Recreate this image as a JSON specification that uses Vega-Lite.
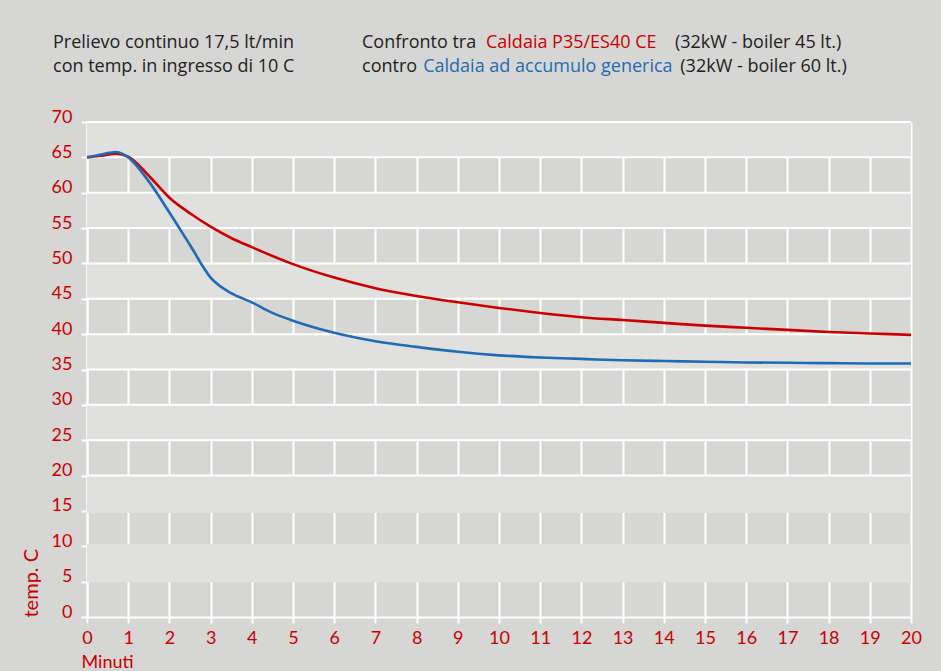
{
  "$schema": "https://vega.github.io/schema/vega-lite/v6.json",
  "width": 824,
  "height": 495,
  "autosize": {"type": "none"},
  "padding": {"left": 87, "top": 122, "right": 30, "bottom": 54},
  "background": "#d6d6d4",
  "config": {
    "view": {"stroke": null, "fill": "#d6d6d4"},
    "font": "Lato",
    "axis": {"labelFont": "Lato", "titleFont": "Lato"}
  },
  "datasets": {
    "bands": [
      {"temp": 65, "temp2": 70},
      {"temp": 55, "temp2": 60},
      {"temp": 45, "temp2": 50},
      {"temp": 35, "temp2": 40},
      {"temp": 25, "temp2": 30},
      {"temp": 14.7, "temp2": 20},
      {"temp": 4.9, "temp2": 10.3}
    ],
    "hgrid": [
      {"temp": 20}, {"temp": 25}, {"temp": 30}, {"temp": 35}, {"temp": 40}, {"temp": 45},
      {"temp": 50}, {"temp": 55}, {"temp": 60}, {"temp": 65}, {"temp": 70}
    ],
    "curves": [
      {"series": "P35", "minute": 0, "temp": 65.0},
      {"series": "P35", "minute": 0.35, "temp": 65.25},
      {"series": "P35", "minute": 0.7, "temp": 65.5},
      {"series": "P35", "minute": 1, "temp": 65.1},
      {"series": "P35", "minute": 1.5, "temp": 62.4},
      {"series": "P35", "minute": 2, "temp": 59.3},
      {"series": "P35", "minute": 2.5, "temp": 57.1},
      {"series": "P35", "minute": 3, "temp": 55.2},
      {"series": "P35", "minute": 3.5, "temp": 53.6},
      {"series": "P35", "minute": 4, "temp": 52.3},
      {"series": "P35", "minute": 5, "temp": 49.9},
      {"series": "P35", "minute": 6, "temp": 48.0},
      {"series": "P35", "minute": 7, "temp": 46.5},
      {"series": "P35", "minute": 8, "temp": 45.4},
      {"series": "P35", "minute": 9, "temp": 44.5},
      {"series": "P35", "minute": 10, "temp": 43.7},
      {"series": "P35", "minute": 11, "temp": 43.0},
      {"series": "P35", "minute": 12, "temp": 42.4},
      {"series": "P35", "minute": 13, "temp": 42.0},
      {"series": "P35", "minute": 14, "temp": 41.6},
      {"series": "P35", "minute": 15, "temp": 41.2},
      {"series": "P35", "minute": 16, "temp": 40.9},
      {"series": "P35", "minute": 17, "temp": 40.6},
      {"series": "P35", "minute": 18, "temp": 40.3},
      {"series": "P35", "minute": 19, "temp": 40.1},
      {"series": "P35", "minute": 20, "temp": 39.9},
      {"series": "generica", "minute": 0, "temp": 65.0},
      {"series": "generica", "minute": 0.35, "temp": 65.4},
      {"series": "generica", "minute": 0.7, "temp": 65.75},
      {"series": "generica", "minute": 1, "temp": 65.0},
      {"series": "generica", "minute": 1.5, "temp": 61.6},
      {"series": "generica", "minute": 2, "temp": 57.2},
      {"series": "generica", "minute": 2.5, "temp": 52.6},
      {"series": "generica", "minute": 3, "temp": 48.0},
      {"series": "generica", "minute": 3.5, "temp": 45.8},
      {"series": "generica", "minute": 4, "temp": 44.5},
      {"series": "generica", "minute": 4.5, "temp": 43.0},
      {"series": "generica", "minute": 5, "temp": 41.9},
      {"series": "generica", "minute": 6, "temp": 40.2},
      {"series": "generica", "minute": 7, "temp": 39.0},
      {"series": "generica", "minute": 8, "temp": 38.2},
      {"series": "generica", "minute": 9, "temp": 37.5},
      {"series": "generica", "minute": 10, "temp": 37.0},
      {"series": "generica", "minute": 11, "temp": 36.7},
      {"series": "generica", "minute": 12, "temp": 36.5},
      {"series": "generica", "minute": 13, "temp": 36.3},
      {"series": "generica", "minute": 14, "temp": 36.2},
      {"series": "generica", "minute": 15, "temp": 36.1},
      {"series": "generica", "minute": 16, "temp": 36.0},
      {"series": "generica", "minute": 17, "temp": 35.95},
      {"series": "generica", "minute": 18, "temp": 35.9},
      {"series": "generica", "minute": 19, "temp": 35.85},
      {"series": "generica", "minute": 20, "temp": 35.85}
    ],
    "notes": [
      {"series": "testo", "minute": -0.825, "temp": 80.47, "text": "Prelievo continuo 17,5 lt/min"},
      {"series": "testo", "minute": -0.825, "temp": 77.07, "text": "con temp. in ingresso di 10 C"},
      {"series": "testo", "minute": 6.675, "temp": 80.47, "text": "Confronto tra"},
      {"series": "P35", "minute": 9.684, "temp": 80.47, "text": "Caldaia P35/ES40 CE"},
      {"series": "testo", "minute": 14.27, "temp": 80.47, "text": "(32kW - boiler 45 lt.)"},
      {"series": "testo", "minute": 6.675, "temp": 77.07, "text": "contro"},
      {"series": "generica", "minute": 8.16, "temp": 77.07, "text": "Caldaia ad accumulo generica"},
      {"series": "testo", "minute": 14.4, "temp": 77.07, "text": "(32kW - boiler 60 lt.)"}
    ]
  },
  "encoding": {
    "y": {
      "field": "temp",
      "type": "quantitative",
      "scale": {"domain": [0, 70], "nice": false},
      "axis": {
        "values": [0,5,10,15,20,25,30,35,40,45,50,55,60,65,70],
        "title": "temp. C",
        "titleAnchor": "start",
        "titleAlign": "left",
        "titleAngle": -90,
        "titleX": -50,
        "titleY": 495,
        "titleBaseline": "alphabetic",
        "titleColor": "#cc0000",
        "titleFontSize": 20,
        "titleFontWeight": "normal",
        "labelColor": "#cc0000",
        "labelFontSize": 18,
        "labelBaseline": "alphabetic",
        "labelPadding": 9,
        "labelFlush": false,
        "labelOverlap": false,
        "tickColor": "#ffffff",
        "tickSize": 6,
        "tickWidth": 2,
        "domainColor": "#ffffff",
        "domainWidth": 2,
        "grid": false
      }
    }
  },
  "layer": [
    {
      "data": {"name": "bands"},
      "mark": {"type": "rect", "fill": "#e0e1de"},
      "encoding": {
        "x": {
          "datum": 0,
          "type": "quantitative",
          "scale": {"domain": [0, 20], "nice": false, "zero": false},
          "axis": {
            "values": [0,1,2,3,4,5,6,7,8,9,10,11,12,13,14,15,16,17,18,19,20],
            "title": "Minuti",
            "titleAnchor": "start",
            "titleAlign": "left",
            "titleX": -6,
            "titleY": 50,
            "titleBaseline": "alphabetic",
            "titleColor": "#cc0000",
            "titleFontSize": 18,
            "titleFontWeight": "normal",
            "labelColor": "#cc0000",
            "labelFontSize": 18,
            "labelPadding": 6,
            "labelFlush": false,
            "labelOverlap": false,
            "tickColor": "#ffffff",
            "tickSize": 6,
            "tickWidth": 2,
            "domainColor": "#ffffff",
            "domainWidth": 2,
            "grid": true,
            "gridColor": "#ffffff",
            "gridWidth": 2,
            "gridOpacity": 1
          }
        },
        "x2": {"datum": 20},
        "y2": {"field": "temp2"}
      }
    },
    {
      "data": {"name": "hgrid"},
      "mark": {"type": "rule", "color": "#ffffff", "strokeWidth": 2},
      "encoding": {
        "x": {"datum": 0, "type": "quantitative"},
        "x2": {"datum": 20}
      }
    },
    {
      "data": {"name": "curves"},
      "mark": {"type": "line", "strokeWidth": 2.6, "interpolate": "monotone"},
      "encoding": {
        "x": {"field": "minute", "type": "quantitative"},
        "color": {
          "field": "series",
          "type": "nominal",
          "scale": {"domain": ["P35", "generica", "testo"], "range": ["#cc0000", "#1f6bb5", "#222222"]},
          "legend": null
        }
      }
    },
    {
      "data": {"name": "notes"},
      "mark": {"type": "text", "align": "left", "baseline": "alphabetic", "fontSize": 18, "font": "Open Sans", "clip": false},
      "encoding": {
        "x": {"field": "minute", "type": "quantitative"},
        "text": {"field": "text"},
        "color": {"field": "series", "type": "nominal", "legend": null}
      }
    }
  ]
}
